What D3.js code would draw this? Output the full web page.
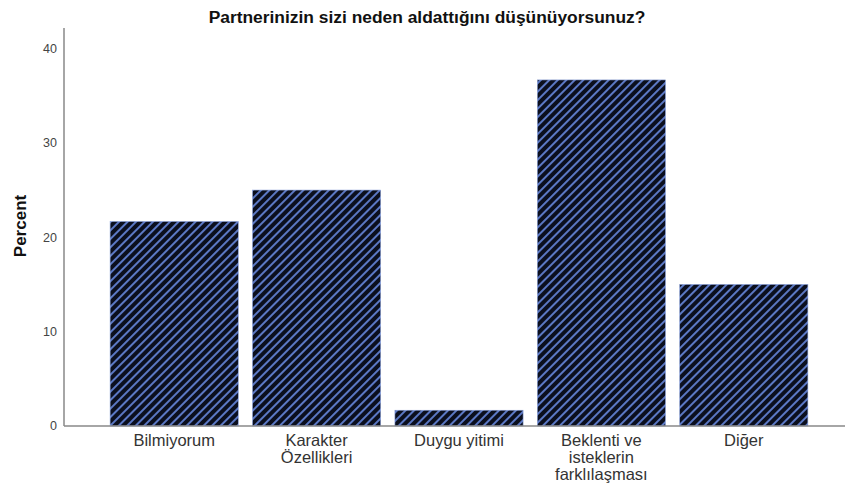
<!DOCTYPE html>
<html>
<head>
<meta charset="utf-8">
<script src="https://cdn.jsdelivr.net/npm/d3@7"></script>
<style>
  body { margin: 0; background: #fff; }
  svg { display: block; font-family: "Liberation Sans", Arial, sans-serif; }
</style>
</head>
<body>
<div id="chart"></div>
<script>
var categories = [['Bilmiyorum'], ['Karakter', 'Özellikleri'], ['Duygu yitimi'], ['Beklenti ve', 'isteklerin', 'farklılaşması'], ['Diğer']];
var percents = [21.67, 25.0, 1.67, 36.67, 15.0];
var yTicks = [0, 10, 20, 30, 40];
var title = 'Partnerinizin sizi neden aldattığını düşünüyorsunuz?';

var W = 845, H = 488;
var svg = d3.select('#chart').append('svg').attr('width', W).attr('height', H);

// hatch pattern
var pat = svg.append('defs').append('pattern').attr('id', 'hatch').attr('patternUnits', 'userSpaceOnUse')
  .attr('width', 6).attr('height', 6).attr('patternTransform', 'rotate(45)');
pat.append('rect').attr('width', 6).attr('height', 6).attr('fill', '#0b0f1e');
pat.append('rect').attr('x', 0).attr('width', 2).attr('height', 6).attr('fill', '#5b78c4');

var y = d3.scaleLinear().domain([0, 40]).range([426, 48.5]);
var keys = categories.map(function (c, i) { return 'c' + i; });
var x = d3.scaleBand().domain(keys).range([103, 815]).paddingInner(0.1).paddingOuter(0.05);

// bars
svg.append('g').selectAll('rect').data(percents).join('rect')
  .attr('x', function (d, i) { return x(keys[i]); })
  .attr('y', function (d) { return y(d); })
  .attr('width', x.bandwidth())
  .attr('height', function (d) { return y(0) - y(d); })
  .attr('fill', 'url(#hatch)')
  .attr('stroke', '#8aa0d8').attr('stroke-width', 0.6);

// axes
svg.append('line').attr('x1', 64).attr('x2', W).attr('y1', y(0)).attr('y2', y(0)).attr('stroke', '#888').attr('stroke-width', 1.5);
svg.append('line').attr('x1', 64).attr('x2', 64).attr('y1', 28).attr('y2', y(0)).attr('stroke', '#888').attr('stroke-width', 1.5);

svg.append('g').selectAll('text').data(yTicks).join('text')
  .attr('x', 57).attr('y', function (d) { return y(d); }).attr('dy', '.35em')
  .attr('text-anchor', 'end').attr('font-size', 12.5).attr('fill', '#444').text(function (d) { return d; });

var xl = svg.append('g').selectAll('text').data(categories).join('text')
  .attr('x', function (d, i) { return x(keys[i]) + x.bandwidth() / 2; })
  .attr('y', 446).attr('text-anchor', 'middle').attr('font-size', 16.5).attr('fill', '#333');
xl.each(function (lines) {
  var t = d3.select(this);
  lines.forEach(function (l, j) {
    t.append('tspan').attr('x', t.attr('x')).attr('dy', j === 0 ? 0 : 17).text(l);
  });
});

svg.append('text').attr('transform', 'translate(26,226) rotate(-90)').attr('text-anchor', 'middle')
  .attr('font-size', 17).attr('font-weight', 'bold').attr('fill', '#111').text('Percent');

svg.append('text').attr('x', 427).attr('y', 23).attr('text-anchor', 'middle')
  .attr('font-size', 17.4).attr('font-weight', 'bold').attr('fill', '#111').text(title);
</script>
</body>
</html>
